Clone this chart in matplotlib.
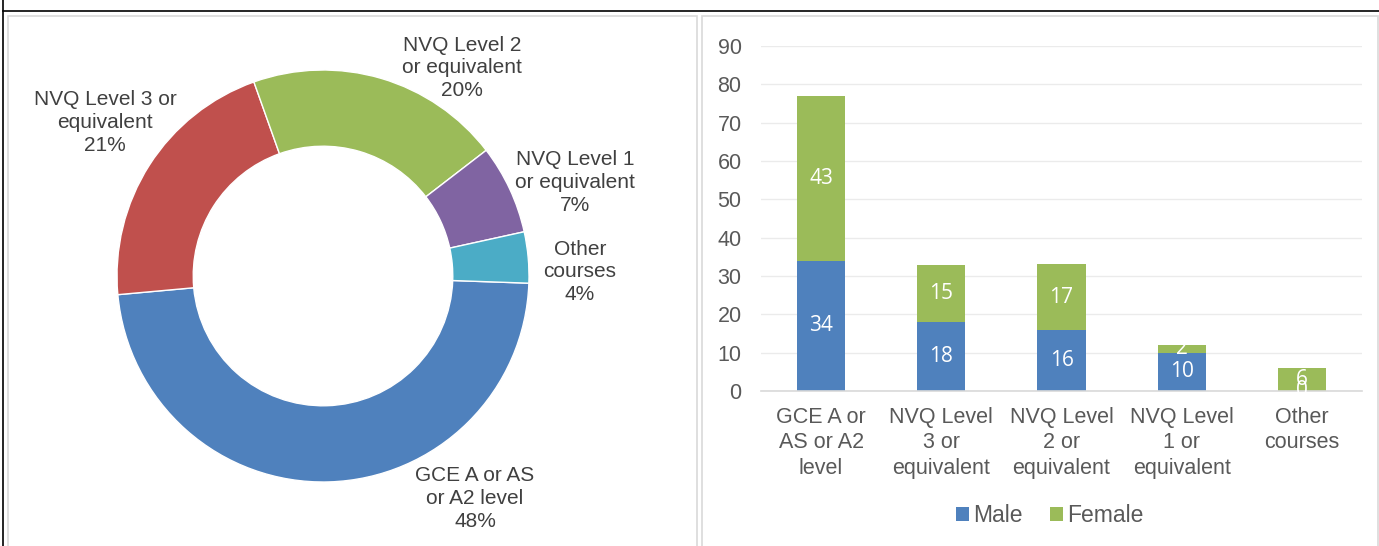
import numpy as np
import matplotlib.pyplot as plt
from matplotlib.patches import Rectangle
from matplotlib.lines import Line2D

plt.rcParams['font.family'] = ['Liberation Sans', 'DejaVu Sans']

# donut data (percent)
pie_labels = ['GCE A or AS\nor A2 level', 'NVQ Level 3 or\nequivalent', 'NVQ Level 2\nor equivalent',
              'NVQ Level 1\nor equivalent', 'Other\ncourses']
pie_values = [48, 21, 20, 7, 4]
pie_colors = ['#4F81BD', '#C0504D', '#9BBB59', '#8064A2', '#4BACC6']

# stacked bar data
categories = ['GCE A or\nAS or A2\nlevel', 'NVQ Level\n3 or\nequivalent', 'NVQ Level\n2 or\nequivalent',
              'NVQ Level\n1 or\nequivalent', 'Other\ncourses']
male = [34, 18, 16, 10, 0]
female = [43, 15, 17, 2, 6]

W, H = 1379, 546
fig = plt.figure(figsize=(W / 100, H / 100), dpi=100)

txt = '#404040'
tick_col = '#595959'

# outer frame lines and panel borders
fig.add_artist(Line2D([3 / W, 3 / W], [0, 1], color='black', lw=1.2))
fig.add_artist(Line2D([3 / W, 1], [1 - 11 / H, 1 - 11 / H], color='black', lw=1.2))
fig.add_artist(Rectangle((8 / W, -0.01), 689 / W, 1 - 16 / H + 0.01, fill=False,
                         edgecolor='#D9D9D9', lw=1.2))
fig.add_artist(Rectangle((702 / W, -0.01), 676 / W, 1 - 16 / H + 0.01, fill=False,
                         edgecolor='#D9D9D9', lw=1.2))

# ---- donut ----
cx, cy, r = 323, 270, 206
ax1 = fig.add_axes([(cx - r) / W, (cy - r) / H, 2 * r / W, 2 * r / H])
ax1.pie(pie_values, colors=pie_colors, startangle=-2, counterclock=False,
        wedgeprops=dict(width=0.37, edgecolor='white', linewidth=1))
ax1.set_xlim(-1, 1)
ax1.set_ylim(-1, 1)
ax1.set_aspect('equal')
ax1.axis('off')

label_pos = [(0.738, -1.08), (-1.058, 0.745), (0.675, 1.01), (1.223, 0.455), (1.248, 0.02)]
for lab, v, (x, y) in zip(pie_labels, pie_values, label_pos):
    ax1.text(x, y, f'{lab}\n{v}%', ha='center', va='center', fontsize=15,
             color=txt, linespacing=1.25)

# ---- stacked bars ----
ax2 = fig.add_axes([761 / W, (H - 391) / H, 601 / W, 345 / H])
x = np.arange(len(categories))
b1 = ax2.bar(x, male, width=0.4, color='#4F81BD', label='Male')
b2 = ax2.bar(x, female, width=0.4, bottom=male, color='#9BBB59', label='Female')
for vals, base in [(male, [0] * 5), (female, male)]:
    for xi, v, b in zip(x, vals, base):
        ax2.text(xi, b + v / 2, str(v), ha='center', va='center', color='white',
                 fontsize=15, family=['Open Sans', 'DejaVu Sans'])

ax2.set_xlim(-0.5, 4.5)
ax2.set_ylim(0, 90)
ax2.set_yticks(range(0, 91, 10))
ax2.yaxis.grid(True, color='#EBEBEB', lw=1)
ax2.set_axisbelow(True)
for s in ['top', 'right', 'left']:
    ax2.spines[s].set_visible(False)
ax2.spines['bottom'].set_color('#D9D9D9')
ax2.spines['bottom'].set_linewidth(1.2)
ax2.tick_params(axis='both', length=0, labelsize=15.5, labelcolor=tick_col)
ax2.tick_params(axis='y', pad=14)
ax2.tick_params(axis='x', pad=11.5)
ax2.set_xticks(x)
ax2.set_xticklabels(categories, linespacing=1.28)

fig.legend(handles=[b1, b2], loc='center', bbox_to_anchor=(1050 / W, 1 - 516 / H), ncol=2,
           frameon=False, fontsize=16.5, handlelength=0.55, handleheight=0.55,
           handletextpad=0.2, columnspacing=1.2, labelcolor=tick_col)

fig.savefig('out.png', dpi=100)
